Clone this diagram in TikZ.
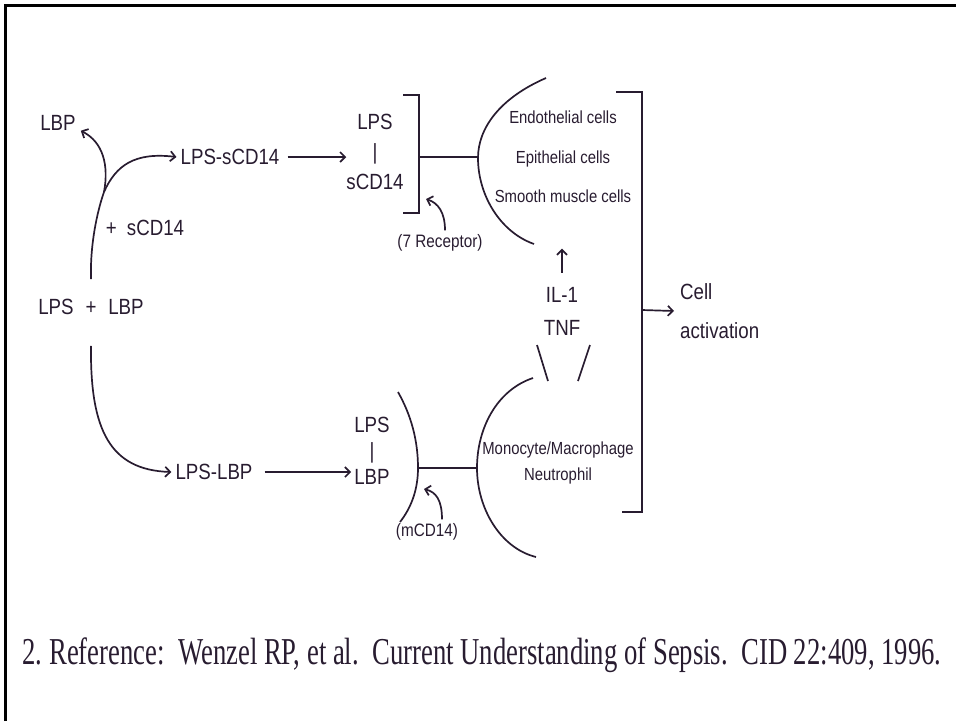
\documentclass[tikz,border=0pt]{standalone}
\usepackage{fontspec}
\setmainfont{Liberation Serif}
\setsansfont{Liberation Sans}
\usetikzlibrary{arrows.meta}
\definecolor{ink}{RGB}{40,28,48}
\tikzset{
  lab/.style={font=\sffamily\fontsize{22}{30}\selectfont, xscale=0.85, inner sep=0pt, text=ink},
  celltext/.style={font=\sffamily\fontsize{17.5}{39.5}\selectfont, xscale=0.85, inner sep=0pt, text=ink, align=center},
  note/.style={font=\sffamily\fontsize{18}{20}\selectfont, xscale=0.85, inner sep=0pt, text=ink},
  link/.style={ink, line width=1.7pt},
}
\begin{document}
\begin{tikzpicture}[x=1pt, y=-1pt, >={Straight Barb[length=5pt,width=10pt]}]
  \useasboundingbox (0,0) rectangle (956,721);
  % 1. frame
  \draw[line width=3pt] (5,721) -- (5,5) -- (956,5);

  % 2. left side: LPS + LBP and its two branches
  \node[lab] (lbpfree) at (58,123) {LBP};
  \node[lab] (lpslbp) at (91,307) {LPS\hspace{14pt}+\hspace{14pt}LBP};
  \node[lab] (plusscd) at (145,228) {+\hspace{12pt}sCD14};
  \node[lab] (lpsscd) at (230,157) {LPS-sCD14};
  \node[lab] (lpslbpc) at (214,472) {LPS-LBP};
  \coordinate (fork) at (104,192);
  \draw[link] ([yshift=20pt]lpslbp.north) .. controls (90,245) and (97,212) .. (fork);
  \draw[link,->] (fork) .. controls (109,165) and (103,142) .. ([xshift=5pt]lbpfree.south east);
  \draw[link,->] (fork) .. controls (116,165) and (135,152) .. ([xshift=-4pt]lpsscd.west);
  \draw[link,->] ([yshift=-31pt]lpslbp.south) .. controls (90,430) and (110,470) .. ([xshift=-4pt]lpslbpc.west);

  % 3. complexes and receptors
  \node[lab, align=center] (cpxs) at (375,152) {LPS\\|\\sCD14};
  \node[lab, align=center, font=\sffamily\fontsize{22}{26}\selectfont] (cpxl) at (372,451) {LPS\\|\\LBP};
  \draw[link,->] ([xshift=8pt]lpsscd.east) -- (lpsscd.east -| cpxs.west);
  \draw[link,->] ([xshift=12pt]lpslbpc.east) -- ([xshift=-3pt]lpslbpc.east -| cpxl.west);
  \draw[link] (403,95) -- (419,95) -- (419,213) -- (403,213);
  \draw[link] (419,157) -- (478,157);
  \draw[link] (398,392) .. controls (411,415) and (418,440) .. (418,468) .. controls (418,490) and (411,508) .. (400,522);
  \draw[link] (418,468) -- (477,468);
  \node[note] (recep) at (440,243) {(7 Receptor)};
  \node[note] (mcd) at (427,532) {(mCD14)};
  \draw[link,->] ([xshift=5pt,yshift=4pt]recep.north) .. controls (445,212) and (438,203) .. (426,199);
  \draw[link,->] ([xshift=15pt,yshift=4pt]mcd.north) .. controls (442,500) and (436,492) .. (424,489);

  % 4. target cells
  \draw[link] (546,78) .. controls (500,98) and (478,128) .. (478,158) .. controls (478,195) and (500,232) .. (534,244);
  \draw[link] (533,378) .. controls (497,390) and (477,428) .. (477,468) .. controls (477,508) and (500,548) .. (536,557);
  \node[celltext] (upcells) at (563,157) {Endothelial cells\\Epithelial cells\\Smooth muscle cells};
  \node[celltext, font=\sffamily\fontsize{17.5}{26}\selectfont] (lowcells) at (558,463) {Monocyte/Macrophage\\Neutrophil};

  % 5. cytokines
  \node[lab, align=center, font=\sffamily\fontsize{22}{33}\selectfont] (cyto) at (562,311) {IL-1\\TNF};
  \draw[link,->] ([yshift=14pt]cyto.north) -- ([yshift=38pt]cyto.north);
  \draw[link] (537,345) -- (548,381);
  \draw[link] (590,345) -- (578,381);

  % 6. cell activation
  \draw[link] (616,92) -- (642,92) -- (642,512) -- (622,512);
  \coordinate (outl) at (642,310);
  \node[lab, align=left, anchor=west, font=\sffamily\fontsize{22}{39}\selectfont] (cellact) at (680,311) {Cell\\activation};
  \draw[link,->] (outl) -- ([xshift=-6pt]cellact.west);

  % 7. reference line
  \node[font=\fontsize{38}{40}\selectfont, xscale=0.702, text=ink, inner sep=0pt] (cite) at (482,655)
    {2.\ Reference:\ \ Wenzel RP, et al.\ \ Current Understanding of Sepsis.\ \ CID 22:409, 1996.};
\end{tikzpicture}
\end{document}
